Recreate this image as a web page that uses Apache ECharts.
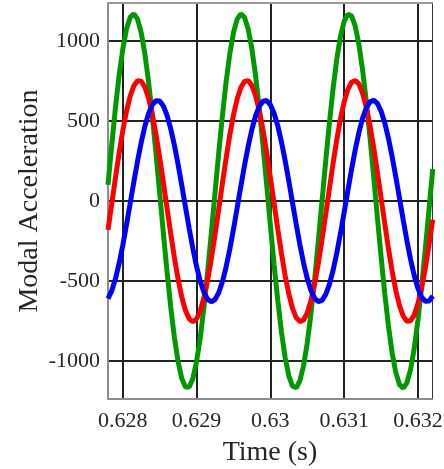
<!DOCTYPE html>
<html>
<head>
<meta charset="utf-8">
<script src="https://cdn.jsdelivr.net/npm/echarts@6/dist/echarts.min.js"></script>
<style>
  html, body { margin: 0; padding: 0; background: #fff; }
  #chart { width: 444px; height: 469px; }
</style>
</head>
<body>
<div id="chart"></div>
<script>
var chart = echarts.init(document.getElementById("chart"));

// time samples (s)
var times = [0.6278, 0.62785, 0.6279, 0.62795, 0.628, 0.62805, 0.6281, 0.62815, 0.6282, 0.62825,
  0.6283, 0.62835, 0.6284, 0.62845, 0.6285, 0.62855, 0.6286, 0.62865, 0.6287, 0.62875,
  0.6288, 0.62885, 0.6289, 0.62895, 0.629, 0.62905, 0.6291, 0.62915, 0.6292, 0.62925,
  0.6293, 0.62935, 0.6294, 0.62945, 0.6295, 0.62955, 0.6296, 0.62965, 0.6297, 0.62975,
  0.6298, 0.62985, 0.6299, 0.62995, 0.63, 0.63005, 0.6301, 0.63015, 0.6302, 0.63025,
  0.6303, 0.63035, 0.6304, 0.63045, 0.6305, 0.63055, 0.6306, 0.63065, 0.6307, 0.63075,
  0.6308, 0.63085, 0.6309, 0.63095, 0.631, 0.63105, 0.6311, 0.63115, 0.6312, 0.63125,
  0.6313, 0.63135, 0.6314, 0.63145, 0.6315, 0.63155, 0.6316, 0.63165, 0.6317, 0.63175,
  0.6318, 0.63185, 0.6319, 0.63195, 0.632, 0.63205, 0.6321, 0.63215, 0.6322];

var greenVals = [101, 347, 578, 782, 949, 1074, 1148, 1170, 1137, 1053,
  919, 744, 533, 299, 50, -200, -442, -663, -854, -1005,
  -1110, -1163, -1163, -1110, -1005, -854, -663, -442, -200, 50,
  299, 533, 744, 919, 1053, 1137, 1170, 1148, 1074, 950,
  782, 578, 347, 101, -151, -395, -621, -818, -978, -1093,
  -1157, -1168, -1124, -1030, -887, -704, -488, -250, 0, 250,
  488, 704, 887, 1030, 1124, 1168, 1157, 1093, 978, 818,
  621, 395, 151, -101, -347, -578, -782, -950, -1073, -1148,
  -1170, -1137, -1053, -919, -744, -533, -299, -50, 200];

var redVals = [-180, -19, 142, 297, 439, 560, 655, 720, 752, 749,
  712, 642, 542, 417, 273, 116, -46, -205, -356, -490,
  -601, -685, -737, -755, -738, -688, -605, -494, -361, -211,
  -52, 110, 267, 412, 537, 638, 710, 748, 753, 722,
  658, 564, 444, 303, 148, -13, -174, -327, -465, -581,
  -671, -729, -754, -744, -700, -624, -518, -389, -242, -84,
  78, 236, 384, 514, 620, 698, 743, 754, 731, 673,
  585, 470, 333, 180, 19, -142, -297, -439, -560, -655,
  -720, -752, -749, -712, -641, -542, -417, -273, -116];

var blueVals = [-610, -562, -488, -392, -278, -150, -16, 119, 248, 366,
  467, 547, 601, 627, 625, 594, 535, 452, 348, 228,
  97, -38, -171, -297, -409, -501, -571, -615, -630, -616,
  -574, -505, -413, -302, -177, -43, 92, 223, 344, 448,
  533, 592, 624, 628, 602, 549, 471, 370, 253, 124,
  -11, -145, -273, -388, -485, -559, -608, -629, -621, -584,
  -521, -433, -325, -202, -70, 65, 197, 320, 429, 518,
  582, 620, 630, 610, 562, 488, 392, 277, 150, 16,
  -119, -248, -366, -467, -547, -601, -627, -625, -594];

var xTicks = [0.628, 0.629, 0.63, 0.631, 0.632];
var yTicks = [-1000, -500, 0, 500, 1000];

function pairs(vals) {
  var out = [];
  for (var i = 0; i < vals.length; i++) {
    out.push([times[i], vals[i]]);
  }
  return out;
}

var font = "Liberation Serif";

chart.setOption({
  animation: false,
  grid: {
    left: 108,
    right: 12,
    top: 3,
    bottom: 70,
    outerBoundsMode: "none",
  },
  xAxis: [
    {
      type: "value",
      min: 0.6278,
      max: 0.63219,
      name: "Time (s)",
      nameLocation: "middle",
      nameGap: 40,
      nameMoveOverlap: false,
      nameTextStyle: { fontFamily: font, fontSize: 28, color: "#262626" },
      axisLine: { show: true, onZero: false, lineStyle: { color: "#8c8c8c", width: 2 } },
      axisTick: { show: false, customValues: xTicks },
      axisLabel: {
        customValues: xTicks,
        fontFamily: font,
        fontSize: 22,
        color: "#262626",
        margin: 11,
        formatter: function (v) { return String(+v.toFixed(3)); },
      },
      splitLine: { show: true, lineStyle: { color: "#222", width: 2 } },
    },
    {
      type: "value",
      position: "top",
      min: 0.6278,
      max: 0.63219,
      axisLine: { show: true, onZero: false, lineStyle: { color: "#9a9a9a", width: 2 } },
      axisTick: { show: false },
      axisLabel: { show: false },
      splitLine: { show: false },
    },
  ],
  yAxis: [
    {
      type: "value",
      min: -1238,
      max: 1238,
      name: "Modal Acceleration",
      nameLocation: "middle",
      nameGap: 64,
      nameMoveOverlap: false,
      nameTextStyle: { fontFamily: font, fontSize: 28, color: "#262626" },
      axisLine: { show: true, onZero: false, lineStyle: { color: "#8c8c8c", width: 2 } },
      axisTick: { show: false, customValues: yTicks },
      axisLabel: {
        customValues: yTicks,
        fontFamily: font,
        fontSize: 22,
        color: "#262626",
        margin: 8,
        formatter: function (v) { return String(v); },
      },
      splitLine: { show: true, lineStyle: { color: "#222", width: 2 } },
    },
    {
      type: "value",
      position: "right",
      min: -1238,
      max: 1238,
      axisLine: { show: true, onZero: false, lineStyle: { color: "#333", width: 1 } },
      axisTick: { show: false },
      axisLabel: { show: false },
      splitLine: { show: false },
    },
  ],
  series: [
    {
      name: "green",
      type: "line",
      data: pairs(greenVals),
      showSymbol: false,
      symbol: "none",
      lineStyle: { color: "#009900", width: 5 },
    },
    {
      name: "red",
      type: "line",
      data: pairs(redVals),
      showSymbol: false,
      symbol: "none",
      lineStyle: { color: "#ff0000", width: 5 },
    },
    {
      name: "blue",
      type: "line",
      data: pairs(blueVals),
      showSymbol: false,
      symbol: "none",
      lineStyle: { color: "#0000ff", width: 5 },
    },
  ],
});
</script>
</body>
</html>
